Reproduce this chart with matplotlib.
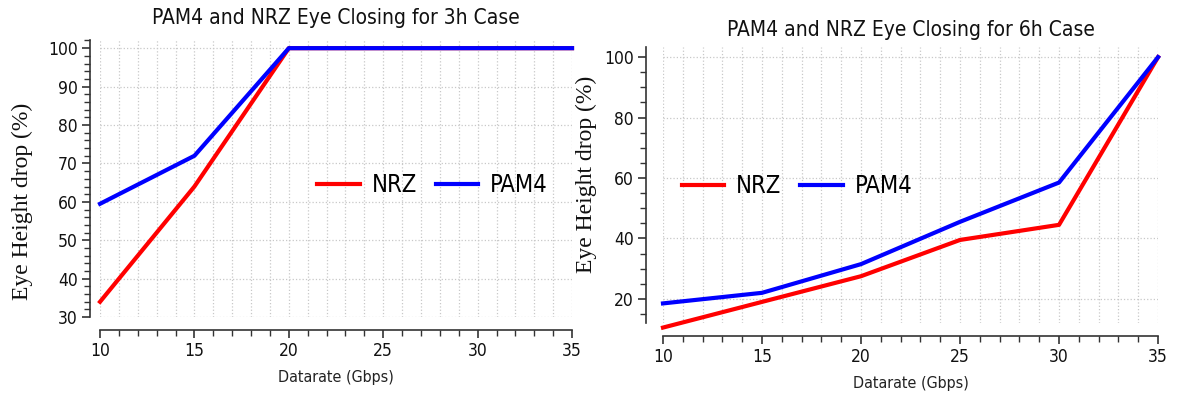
import numpy as np
import matplotlib
matplotlib.use("Agg")
import matplotlib.pyplot as plt
from matplotlib.ticker import MultipleLocator

# Eye height drop (%) vs datarate for the 3h and 6h cases
datarate = [10, 15, 20, 25, 30, 35]
nrz_3h = [34, 64, 100, 100, 100, 100]
pam4_3h = [59.5, 72, 100, 100, 100, 100]
nrz_6h = [10.5, 19, 27.5, 39.5, 44.5, 100]
pam4_6h = [18.5, 22, 31.5, 45.5, 58.5, 100]

titles = ["PAM4 and NRZ Eye Closing for 3h Case",
          "PAM4 and NRZ Eye Closing for 6h Case"]

sans = ["DejaVu Sans"]
serif = ["Liberation Serif", "DejaVu Serif"]

fig = plt.figure(figsize=(11.77, 3.93), dpi=100)
ax1 = fig.add_axes([0.085, 0.193, 0.401, 0.704])
ax2 = fig.add_axes([0.5633, 0.178, 0.4206, 0.702])


def style_axis(ax, title, ymajor, yminor, left_off, bottom_off, title_pad):
    for s in ["top", "right"]:
        ax.spines[s].set_visible(False)
    ax.spines["left"].set_position(("outward", left_off))
    ax.spines["bottom"].set_position(("outward", bottom_off))
    for s in ["left", "bottom"]:
        ax.spines[s].set_color("#333333")
        ax.spines[s].set_linewidth(1.2)
    ax.set_xlim(10, 35)
    ax.xaxis.set_major_locator(MultipleLocator(5))
    ax.xaxis.set_minor_locator(MultipleLocator(1))
    ax.yaxis.set_major_locator(MultipleLocator(ymajor))
    ax.yaxis.set_minor_locator(MultipleLocator(yminor))
    ax.tick_params(which="major", length=6, width=1.2, color="#333333",
                   labelsize=12.5, labelcolor="#111111", pad=3)
    ax.tick_params(which="minor", length=4, width=1, color="#333333")
    for lab in ax.get_xticklabels() + ax.get_yticklabels():
        lab.set_fontstretch("condensed")
    ax.grid(True, axis="x", which="both", linestyle=":", color="#c8c8c8", linewidth=0.9)
    ax.grid(True, axis="y", which="major", linestyle=":", color="#c8c8c8", linewidth=0.9)
    ax.set_axisbelow(True)
    ax.set_title(title, fontsize=15, family=sans, fontstretch="condensed",
                 color="#111111", pad=title_pad)
    ax.set_xlabel("Datarate (Gbps)", fontsize=11.5, family=sans,
                  fontstretch="condensed", color="#222222", labelpad=7)
    ax.set_ylabel("Eye Height drop (%)", fontsize=17, family=serif,
                  color="#111111")


legend_kw = dict(loc="center left", ncol=2, frameon=False, borderpad=0,
                 borderaxespad=0, handlelength=1.8, handletextpad=0.5,
                 columnspacing=0.8,
                 prop={"family": sans, "size": 17, "stretch": "condensed"})

# 3h case
ax1.plot(datarate, nrz_3h, color="#ff0000", lw=3, label="NRZ", clip_on=False)
ax1.plot(datarate, pam4_3h, color="#0000ff", lw=3, label="PAM4", clip_on=False)
ax1.set_ylim(30, 102)
style_axis(ax1, titles[0], 10, 2, 7, 9, 12)
ax1.yaxis.set_label_coords(-0.142, 0.42)
ax1.legend(bbox_to_anchor=(0.46, 0.477), **legend_kw)

# 6h case
ax2.plot(datarate, nrz_6h, color="#ff0000", lw=3, label="NRZ", clip_on=False)
ax2.plot(datarate, pam4_6h, color="#0000ff", lw=3, label="PAM4", clip_on=False)
ax2.set_ylim(12, 103.3)
style_axis(ax2, titles[1], 20, 5, 12, 9, 8)
ax2.yaxis.set_label_coords(-0.133, 0.54)
ax2.legend(bbox_to_anchor=(0.038, 0.496), **legend_kw)

fig.savefig("out.png", dpi=100)
